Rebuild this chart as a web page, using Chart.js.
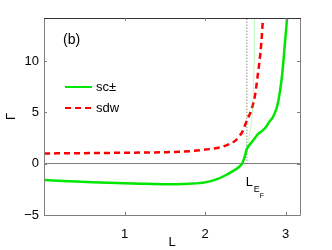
<!DOCTYPE html>
<html>
<head>
<meta charset="utf-8">
<script src="https://cdn.jsdelivr.net/npm/chart.js@4"></script>
<style>
    html, body { margin: 0; padding: 0; background: #fff; }
    #wrap { width: 332px; height: 250px; }
</style>
</head>
<body>
<div id="wrap"><canvas id="chart" width="332" height="250"></canvas></div>
<script>
// ─── Data ─────────────────────────────────────────────────────────────────────
const X_TICKS = [1, 2, 3];
const Y_TICKS = [-5, 0, 5, 10];
const X_MIN = 0, X_MAX = 3.18;
const Y_MIN = -5, Y_MAX = 14.2;

const L_EF = 2.52;

const SC_L     = [0, 0.3, 0.6, 0.9, 1.2, 1.5, 1.8, 2.0, 2.15, 2.25, 2.35, 2.41, 2.46, 2.49, 2.52, 2.55, 2.58, 2.62, 2.66, 2.71, 2.75, 2.8, 2.84, 2.87, 2.9, 2.93, 2.96, 2.99, 3.01, 3.02];
const SC_GAMMA = [-1.6, -1.7, -1.8, -1.88, -1.95, -2.0, -1.95, -1.82, -1.5, -1.15, -0.7, -0.4, 0.0, 0.6, 1.45, 1.8, 2.1, 2.5, 2.9, 3.2, 3.5, 4.1, 4.5, 5.0, 5.7, 7.0, 8.8, 11.5, 13.3, 14.2];

// thin branch going up right after L_EF
const SC2_L     = [2.52, 2.55, 2.58, 2.60, 2.61, 2.615];
const SC2_GAMMA = [1.45, 2.6, 4.2, 6.5, 10.0, 14.2];

const SDW_L     = [0, 0.4, 0.8, 1.2, 1.5, 1.7, 1.9, 2.05, 2.2, 2.3, 2.37, 2.43, 2.47, 2.5, 2.53, 2.56, 2.59, 2.62, 2.65, 2.68, 2.70, 2.72];
const SDW_GAMMA = [1.0, 1.02, 1.05, 1.08, 1.12, 1.17, 1.28, 1.42, 1.62, 1.9, 2.2, 2.7, 3.2, 3.8, 4.4, 4.9, 5.6, 6.6, 8.3, 10.2, 11.8, 14.2];

const LEF_L     = [L_EF, L_EF];
const LEF_GAMMA = [0, Y_MAX];

const GREEN = "#00e600";
const RED = "#ff0000";
const AXIS = "#808080";
const FONT = "'Liberation Sans', Arial, sans-serif";

const pts = (xs, ys) => xs.map((x, i) => ({ x, y: ys[i] }));
const minus = (v) => String(v).replace("-", "\u2212");

// ─── Frame, inward ticks and labels ───────────────────────────────────────────
const framePlugin = {
    id: "frame",
    afterDraw(chart) {
        const { ctx, chartArea: a, scales } = chart;
        const xs = scales.x, ys = scales.y;
        ctx.save();
        ctx.lineWidth = 1;
        ctx.strokeStyle = AXIS;
        ctx.beginPath();
        ctx.moveTo(a.left + 0.5, a.top);
        ctx.lineTo(a.left + 0.5, a.bottom + 0.5);
        ctx.lineTo(a.right + 0.5, a.bottom + 0.5);
        ctx.lineTo(a.right + 0.5, a.top);
        ctx.stroke();
        ctx.strokeStyle = "#333";
        ctx.beginPath();
        ctx.moveTo(a.left, a.top + 0.5);
        ctx.lineTo(a.right + 1, a.top + 0.5);
        ctx.stroke();

        // inward ticks
        ctx.strokeStyle = AXIS;
        ctx.beginPath();
        X_TICKS.forEach((v) => {
            const px = Math.round(xs.getPixelForValue(v)) + 0.5;
            ctx.moveTo(px, a.bottom); ctx.lineTo(px, a.bottom - 3);
            ctx.moveTo(px, a.top); ctx.lineTo(px, a.top + 3);
        });
        Y_TICKS.forEach((v) => {
            const py = Math.round(ys.getPixelForValue(v)) + 0.5;
            ctx.moveTo(a.left, py); ctx.lineTo(a.left + 3, py);
            ctx.moveTo(a.right, py); ctx.lineTo(a.right - 3, py);
        });
        ctx.stroke();

        // panel label
        ctx.fillStyle = "#000";
        ctx.textBaseline = "middle";
        ctx.textAlign = "left";
        ctx.font = "14px " + FONT;
        ctx.fillText("(b)", 63, 40);

        // legend
        const ds = chart.data.datasets;
        const rows = [{ d: ds[0], y: 87 }, { d: ds[2], y: 108 }];
        rows.forEach((r) => {
            ctx.strokeStyle = r.d.borderColor;
            ctx.lineWidth = 2;
            ctx.setLineDash(r.d.borderDash || []);
            ctx.beginPath();
            ctx.moveTo(65, r.y); ctx.lineTo(92, r.y);
            ctx.stroke();
            ctx.setLineDash([]);
            ctx.font = "13px " + FONT;
            ctx.fillText(r.d.label, 96, r.y);
        });

        // L_EF annotation
        const lx = xs.getPixelForValue(L_EF);
        ctx.font = "13px " + FONT;
        ctx.fillText("L", lx - 1, 182);
        ctx.font = "9px " + FONT;
        ctx.fillText("E", lx + 7, 190);
        ctx.font = "7px " + FONT;
        ctx.fillText("F", lx + 13, 196);
        ctx.restore();
    },
};

// ─── Chart ────────────────────────────────────────────────────────────────────
new Chart(document.getElementById("chart"), {
    type: "line",
    data: {
        datasets: [
            { label: "sc\u00b1", data: pts(SC_L, SC_GAMMA), borderColor: GREEN, borderWidth: 2.5, cubicInterpolationMode: "monotone" },
            { label: "sc\u00b1 branch", data: pts(SC2_L, SC2_GAMMA), borderColor: "rgba(0,230,0,0.3)", borderWidth: 0.8 },
            { label: "sdw", data: pts(SDW_L, SDW_GAMMA), borderColor: RED, borderWidth: 2.5, borderDash: [6, 4], cubicInterpolationMode: "monotone" },
            { label: "L_EF", data: pts(LEF_L, LEF_GAMMA), borderColor: "#555", borderWidth: 1, borderDash: [1, 2] },
        ],
    },
    options: {
        responsive: false,
        animation: false,
        devicePixelRatio: 1,
        layout: { padding: { left: 0, right: 32, top: 18, bottom: 0 } },
        elements: { point: { radius: 0 }, line: { tension: 0 } },
        plugins: { legend: { display: false }, tooltip: { enabled: false } },
        scales: {
            x: {
                type: "linear",
                min: X_MIN,
                max: X_MAX,
                afterBuildTicks: (s) => { s.ticks = X_TICKS.map((v) => ({ value: v })); },
                afterFit: (s) => { s.height = 35; },
                grid: { display: false },
                border: { display: false },
                ticks: { color: "#000", font: { family: FONT, size: 13 }, padding: 4, maxRotation: 0 },
                title: { display: true, text: "L", color: "#000", font: { family: FONT, size: 13 }, padding: 0 },
            },
            y: {
                type: "linear",
                min: Y_MIN,
                max: Y_MAX,
                afterBuildTicks: (s) => { s.ticks = Y_TICKS.map((v) => ({ value: v })); },
                afterFit: (s) => { s.width = 44; },
                grid: {
                    drawTicks: false,
                    color: (c) => (c.tick && c.tick.value === 0 ? AXIS : "transparent"),
                },
                border: { display: false },
                ticks: { color: "#000", font: { family: FONT, size: 13 }, padding: 5, callback: (v) => minus(v) },
                title: { display: true, text: "\u0393", color: "#000", font: { family: FONT, size: 13 }, padding: { top: 4, bottom: 0 } },
            },
        },
    },
    plugins: [framePlugin],
});
</script>
</body>
</html>
